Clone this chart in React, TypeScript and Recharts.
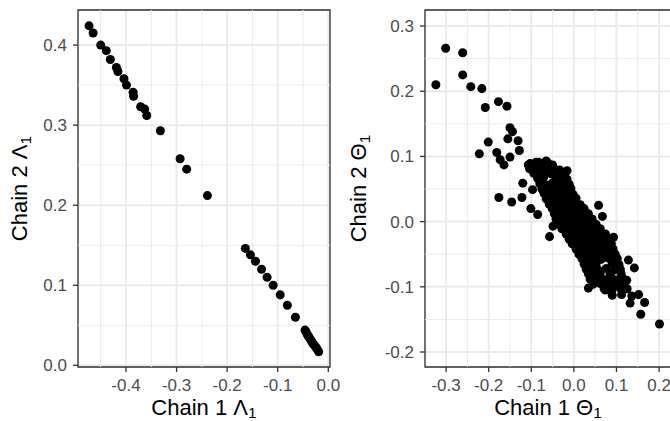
import {
  CartesianGrid,
  ReferenceArea,
  ReferenceLine,
  Scatter,
  ScatterChart,
  XAxis,
  YAxis,
} from "recharts";

const FONT = "'Liberation Sans', Arial, Helvetica, sans-serif";

// left panel: Lambda_1, chain 1 (x) against chain 2 (y)
const lambdaChain1 = [
  -0.473, -0.465, -0.45, -0.439, -0.431, -0.419, -0.416, -0.404, -0.399, -0.386,
  -0.385, -0.371, -0.363, -0.359, -0.332, -0.293, -0.28, -0.239, -0.164, -0.154,
  -0.144, -0.132, -0.121, -0.109, -0.095, -0.081, -0.065, -0.046, -0.044, -0.042,
  -0.04, -0.038, -0.035, -0.033, -0.031, -0.029, -0.026, -0.024, -0.022, -0.019,
];
const lambdaChain2 = [
  0.424, 0.415, 0.4, 0.393, 0.382, 0.372, 0.367, 0.358, 0.35, 0.341,
  0.336, 0.323, 0.32, 0.312, 0.293, 0.258, 0.245, 0.212, 0.146, 0.138,
  0.13, 0.12, 0.11, 0.1, 0.088, 0.075, 0.06, 0.044, 0.042, 0.039,
  0.037, 0.035, 0.032, 0.03, 0.028, 0.026, 0.024, 0.022, 0.02, 0.017,
];
const lambdaXTicks = [-0.4, -0.3, -0.2, -0.1, 0];
const lambdaYTicks = [0, 0.1, 0.2, 0.3, 0.4];
const lambdaXMinor = [-0.45, -0.35, -0.25, -0.15, -0.05];
const lambdaYMinor = [0.05, 0.15, 0.25, 0.35];

// right panel: Theta_1, scattered draws
const thetaSpread: [number, number][] = [
  [-0.324, 0.21], [-0.301, 0.266], [-0.261, 0.259], [-0.261, 0.225], [-0.242, 0.207],
  [-0.216, 0.204], [-0.208, 0.175], [-0.177, 0.184], [-0.157, 0.177], [-0.15, 0.144],
  [-0.144, 0.138], [-0.155, 0.127], [-0.131, 0.124], [-0.201, 0.122], [-0.128, 0.109],
  [-0.222, 0.104], [-0.181, 0.106], [-0.173, 0.095], [-0.164, 0.087], [-0.15, 0.099],
  [-0.176, 0.037], [-0.146, 0.03], [-0.122, 0.037], [-0.101, 0.02], [-0.085, 0.011],
  [-0.057, -0.023], [-0.049, -0.007], [-0.12, 0.059], [-0.097, 0.049], [-0.016, 0.078],
  [0.058, 0.025], [0.067, 0.008], [0.093, -0.024], [0.128, -0.059], [0.142, -0.071],
  [0.124, -0.09], [0.034, -0.102], [0.074, -0.105], [0.152, -0.112], [0.166, -0.124],
  [0.132, -0.125], [0.157, -0.142], [0.201, -0.157], [-0.083, 0.091], [-0.065, 0.093],
  [-0.107, 0.087],
];

// right panel: the dense core of the Theta_1 cloud
const thetaCore: [number, number][] = [
  [-0.103, 0.089], [-0.089, 0.091], [-0.075, 0.088], [-0.061, 0.09], [-0.05, 0.087],
  [-0.104, 0.081], [-0.09, 0.079], [-0.076, 0.082], [-0.062, 0.08], [-0.047, 0.082], [-0.033, 0.079],
  [-0.094, 0.074], [-0.08, 0.072], [-0.066, 0.075], [-0.052, 0.073], [-0.038, 0.075], [-0.024, 0.072],
  [-0.085, 0.066], [-0.071, 0.068], [-0.042, 0.065], [-0.028, 0.067], [-0.016, 0.065],
  [-0.08, 0.058], [-0.065, 0.056], [-0.051, 0.059], [-0.037, 0.057], [-0.023, 0.059], [-0.011, 0.057],
  [-0.075, 0.05], [-0.061, 0.052], [-0.047, 0.049], [-0.033, 0.051], [-0.019, 0.049], [-0.007, 0.051],
  [-0.07, 0.043], [-0.056, 0.041], [-0.042, 0.044], [-0.028, 0.042], [-0.014, 0.044], [-0.002, 0.042],
  [-0.065, 0.035], [-0.051, 0.037], [-0.037, 0.034], [-0.023, 0.036], [-0.009, 0.034], [0.005, 0.036],
  [-0.058, 0.027], [-0.044, 0.026], [-0.03, 0.028], [-0.016, 0.026], [-0.002, 0.028], [0.015, 0.026],
  [-0.051, 0.02], [-0.037, 0.021], [-0.023, 0.019], [-0.009, 0.021], [0.005, 0.019], [0.024, 0.02],
  [-0.046, 0.012], [-0.032, 0.011], [-0.018, 0.013], [-0.004, 0.011], [0.01, 0.013], [0.022, 0.011], [0.034, 0.012],
  [-0.042, 0.004], [-0.028, 0.005], [-0.013, 0.003], [0.001, 0.005], [0.015, 0.003], [0.029, 0.005], [0.043, 0.004],
  [-0.035, -0.004], [-0.02, -0.003], [-0.006, -0.005], [0.008, -0.003], [0.022, -0.005], [0.038, -0.003], [0.052, -0.004],
  [-0.028, -0.011], [-0.013, -0.012], [0.001, -0.01], [0.015, -0.012], [0.029, -0.01], [0.045, -0.012], [0.062, -0.011],
  [-0.018, -0.019], [-0.004, -0.018], [0.01, -0.02], [0.024, -0.018], [0.038, -0.02], [0.055, -0.018], [0.074, -0.019],
  [-0.011, -0.027], [0.003, -0.028], [0.017, -0.026], [0.031, -0.028], [0.048, -0.026], [0.064, -0.028], [0.08, -0.027],
  [-0.004, -0.034], [0.01, -0.033], [0.024, -0.035], [0.038, -0.033], [0.055, -0.035], [0.071, -0.033], [0.088, -0.034],
  [0.005, -0.042], [0.019, -0.043], [0.034, -0.041], [0.048, -0.043], [0.062, -0.041], [0.078, -0.043], [0.092, -0.042],
  [0.012, -0.05], [0.026, -0.049], [0.041, -0.051], [0.055, -0.049], [0.069, -0.051], [0.083, -0.049], [0.097, -0.05],
  [0.019, -0.057], [0.034, -0.058], [0.048, -0.056], [0.064, -0.058], [0.081, -0.056], [0.102, -0.057],
  [0.024, -0.065], [0.038, -0.064], [0.052, -0.066], [0.09, -0.064], [0.106, -0.066],
  [0.029, -0.073], [0.043, -0.072], [0.057, -0.074], [0.076, -0.072], [0.095, -0.074], [0.109, -0.073],
  [0.034, -0.08], [0.048, -0.081], [0.062, -0.079], [0.085, -0.081], [0.111, -0.08],
  [0.038, -0.088], [0.055, -0.087], [0.071, -0.089], [0.09, -0.087], [0.104, -0.089], [0.116, -0.088],
  [0.045, -0.096], [0.062, -0.095], [0.081, -0.097], [0.099, -0.095], [0.118, -0.096],
  [0.071, -0.103], [0.09, -0.104], [0.109, -0.102], [0.125, -0.103],
  [0.09, -0.113], [0.112, -0.112], [0.136, -0.114],
];
const thetaXTicks = [-0.3, -0.2, -0.1, 0, 0.1, 0.2];
const thetaYTicks = [-0.2, -0.1, 0, 0.1, 0.2, 0.3];
const thetaXMinor = [-0.25, -0.15, -0.05, 0.05, 0.15];
const thetaYMinor = [-0.15, -0.05, 0.05, 0.15, 0.25];

const lambdaData = lambdaChain1.map((x, i) => ({ x, y: lambdaChain2[i] }));
const thetaData = [...thetaSpread, ...thetaCore].map(([x, y]) => ({ x, y }));

function titleRenderer(chain: string, symbol: string, vertical: boolean, shift: number) {
  return (props: any) => {
    const vb = props.viewBox;
    if (!vb) return null;
    const cx = vertical ? vb.x + shift : vb.x + vb.width / 2;
    const cy = vertical ? vb.y + vb.height / 2 : vb.y + shift;
    return (
      <text
        x={cx}
        y={cy}
        textAnchor="middle"
        fontSize={22}
        fontFamily={FONT}
        fill="#000"
        transform={vertical ? `rotate(-90 ${cx} ${cy})` : undefined}
      >
        <tspan>{`Chain ${chain} ${symbol}`}</tspan>
        <tspan fontSize={15.5} dy={3.5}>1</tspan>
      </text>
    );
  };
}

type PanelProps = {
  data: { x: number; y: number }[];
  width: number;
  yAxisWidth: number;
  marginRight: number;
  xDomain: [number, number];
  yDomain: [number, number];
  xTicks: number[];
  yTicks: number[];
  xMinor: number[];
  yMinor: number[];
  symbol: string;
  yTitleShift: number;
};

function Panel(p: PanelProps) {
  const tick = { fill: "#4D4D4D", fontSize: 17, fontFamily: FONT };
  const tickLine = { stroke: "#333333", strokeWidth: 1.3 };
  return (
    <ScatterChart
      width={p.width}
      height={421}
      margin={{ top: 10, right: p.marginRight, bottom: 0, left: 0 }}
    >
      <CartesianGrid stroke="#EBEBEB" strokeWidth={2} />
      {p.xMinor.map((v) => (
        <ReferenceLine key={"x" + v} x={v} stroke="#EBEBEB" strokeWidth={1} />
      ))}
      {p.yMinor.map((v) => (
        <ReferenceLine key={"y" + v} y={v} stroke="#EBEBEB" strokeWidth={1} />
      ))}
      <XAxis
        type="number"
        dataKey="x"
        domain={p.xDomain}
        allowDataOverflow
        ticks={p.xTicks}
        interval={0}
        tickFormatter={(v: number) => v.toFixed(1)}
        axisLine={false}
        tickLine={tickLine}
        tickSize={5}
        tickMargin={7}
        tick={tick}
        height={54}
        label={titleRenderer("1", p.symbol, false, 47.5)}
      />
      <YAxis
        type="number"
        dataKey="y"
        domain={p.yDomain}
        allowDataOverflow
        ticks={p.yTicks}
        interval={0}
        tickFormatter={(v: number) => v.toFixed(1)}
        axisLine={false}
        tickLine={tickLine}
        tickSize={5}
        tickMargin={6}
        tick={tick}
        width={p.yAxisWidth}
        label={titleRenderer("2", p.symbol, true, p.yTitleShift)}
      />
      <Scatter data={p.data} fill="#000000" isAnimationActive={false} />
      <ReferenceArea
        x1={p.xDomain[0]}
        x2={p.xDomain[1]}
        y1={p.yDomain[0]}
        y2={p.yDomain[1]}
        fill="none"
        stroke="#333333"
        strokeWidth={1.3}
        ifOverflow="visible"
      />
    </ScatterChart>
  );
}

export default function App() {
  return (
    <div
      style={{
        position: "absolute",
        left: 0,
        top: 0,
        width: 670,
        height: 421,
        overflow: "hidden",
        background: "#fff",
      }}
    >
      <div style={{ position: "absolute", left: 0, top: 0 }}>
        <Panel
          data={lambdaData}
          width={350}
          yAxisWidth={78}
          marginRight={20}
          xDomain={[-0.4949, 0.0034]}
          yDomain={[-0.0021, 0.4438]}
          xTicks={lambdaXTicks}
          yTicks={lambdaYTicks}
          xMinor={lambdaXMinor}
          yMinor={lambdaYMinor}
          symbol="Λ"
          yTitleShift={27}
        />
      </div>
      <div style={{ position: "absolute", left: 335, top: 0 }}>
        <Panel
          data={thetaData}
          width={336}
          yAxisWidth={90}
          marginRight={0}
          xDomain={[-0.3495, 0.228]}
          yDomain={[-0.223, 0.3246]}
          xTicks={thetaXTicks}
          yTicks={thetaYTicks}
          xMinor={thetaXMinor}
          yMinor={thetaYMinor}
          symbol="Θ"
          yTitleShift={31}
        />
      </div>
    </div>
  );
}
